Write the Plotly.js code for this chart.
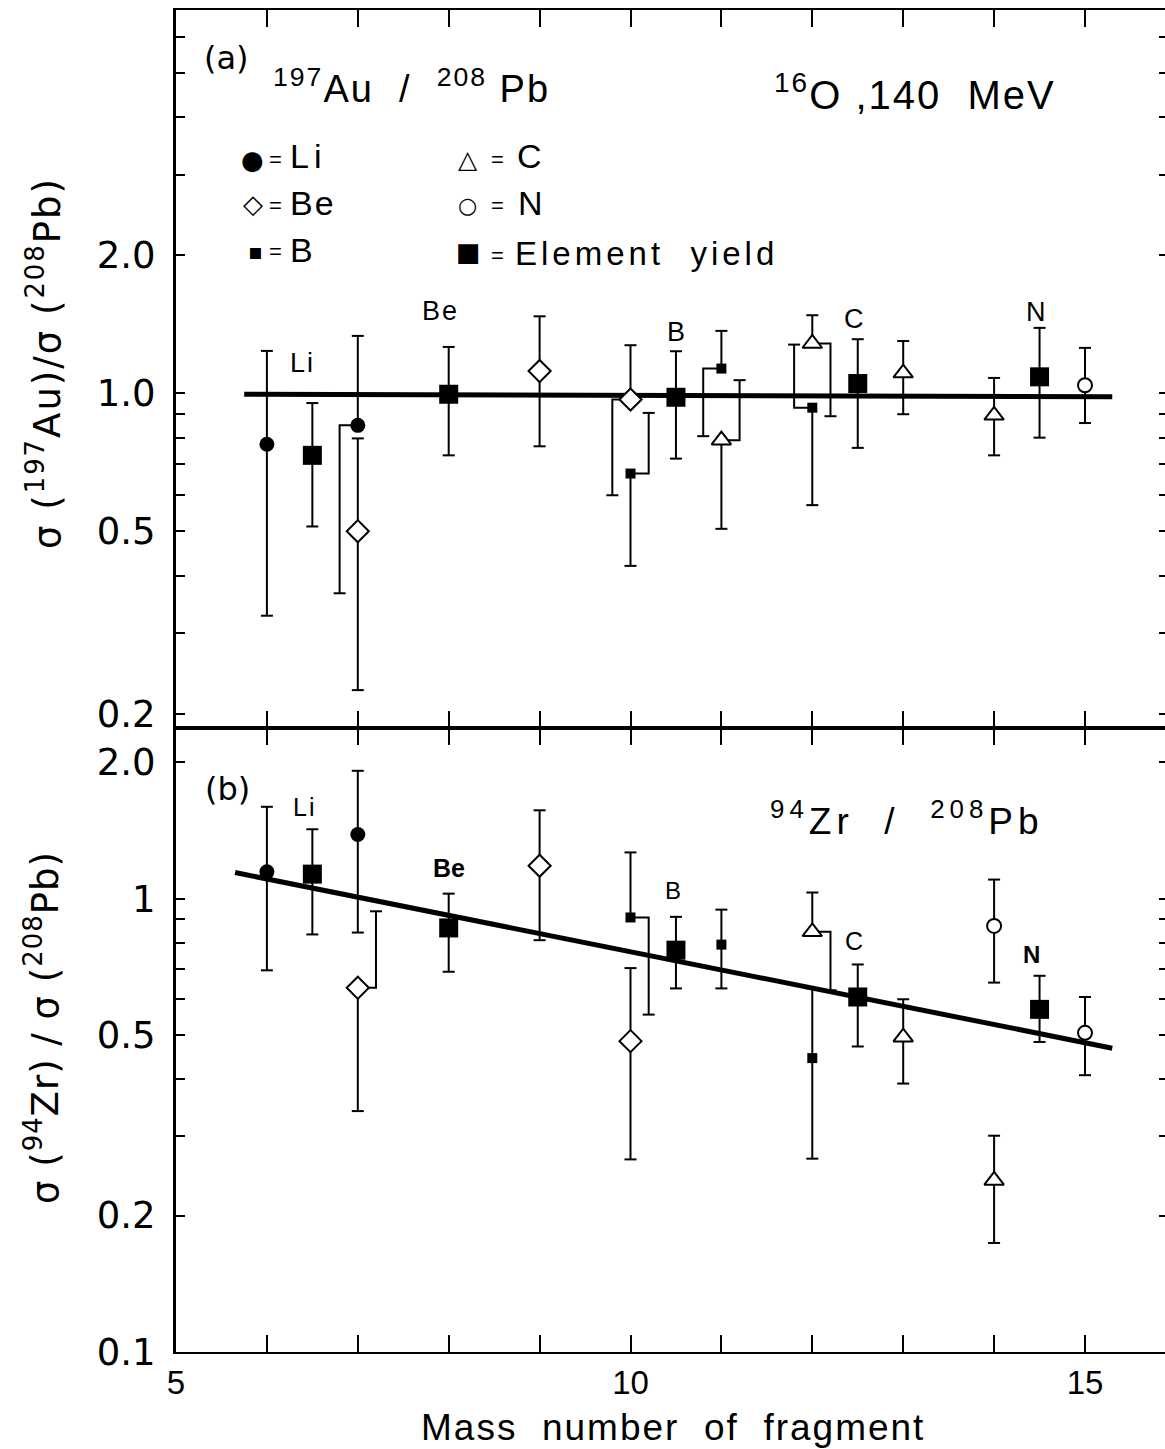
<!DOCTYPE html>
<html><head><meta charset="utf-8">
<script src="https://cdn.plot.ly/plotly-3.0.1.min.js"></script>
<style>html,body{margin:0;padding:0;background:#fff;overflow:hidden;}#chart{width:1170px;height:1449px;}</style>
</head><body><div id="chart"></div>
<script>
// ---------------- Panel (a): 197Au / 208Pb ----------------
const liA_x = [6, 7];
const liA_y = [0.774, 0.851];
const liA_hi = [1.237, 1.334];
const liA_lo = [0.327, 0.366];

const beA_x = [7, 9, 10];
const beA_y = [0.50, 1.118, 0.969];
const beA_hi = [0.797, 1.472, 1.273];
const beA_lo = [0.225, 0.766, 0.599];

const bA_x = [10, 11, 12];
const bA_y = [0.668, 1.132, 0.93];
const bA_hi = [0.906, 1.368, 1.277];
const bA_lo = [0.42, 0.806, 0.57];

const cA_x = [11, 12, 13, 14];
const cA_y = [0.79, 1.284, 1.107, 0.895];
const cA_hi = [1.068, 1.48, 1.30, 1.08];
const cA_lo = [0.506, 0.891, 0.90, 0.732];

const nA_x = [15];
const nA_y = [1.041];
const nA_hi = [1.256];
const nA_lo = [0.861];

const elA_x = [6.5, 8, 10.5, 12.5, 14.5];
const elA_y = [0.732, 0.995, 0.98, 1.05, 1.086];
const elA_hi = [0.952, 1.262, 1.235, 1.312, 1.389];
const elA_lo = [0.512, 0.732, 0.72, 0.76, 0.80];

const fitA_x = [5.75, 15.3];
const fitA_y = [0.995, 0.983];

// error bars drawn beside the point (element, mass, side of bar, direction)
const bracketA_el   = ['Li', 'Be', 'B', 'B', 'C', 'B', 'C'];
const bracketA_mass = [7, 10, 10, 11, 11, 12, 12];
const bracketA_side = ['lo', 'lo', 'hi', 'lo', 'hi', 'hi', 'lo'];
const bracketA_dir  = [-1, -1, 1, -1, 1, -1, 1];

// ---------------- Panel (b): 94Zr / 208Pb ----------------
const liB_x = [6, 7];
const liB_y = [1.146, 1.386];
const liB_hi = [1.595, 1.915];
const liB_lo = [0.695, 0.842];

const beB_x = [7, 9, 10];
const beB_y = [0.636, 1.182, 0.485];
const beB_hi = [0.938, 1.567, 0.703];
const beB_lo = [0.34, 0.81, 0.266];

const bB_x = [10, 11, 12];
const bB_y = [0.909, 0.792, 0.445];
const bB_hi = [1.265, 0.946, 0.634];
const bB_lo = [0.555, 0.634, 0.267];

const cB_x = [12, 13, 14];
const cB_y = [0.845, 0.495, 0.239];
const cB_hi = [1.032, 0.60, 0.30];
const cB_lo = [0.628, 0.391, 0.174];

const nB_x = [14, 15];
const nB_y = [0.871, 0.506];
const nB_hi = [1.102, 0.607];
const nB_lo = [0.653, 0.408];

const elB_x = [6.5, 8, 10.5, 12.5, 14.5];
const elB_y = [1.133, 0.862, 0.77, 0.607, 0.57];
const elB_hi = [1.423, 1.026, 0.912, 0.716, 0.676];
const elB_lo = [0.834, 0.69, 0.634, 0.472, 0.483];

const fitB_x = [5.65, 15.3];
const fitB_y = [1.142, 0.468];

const bracketB_el   = ['Be', 'B', 'C'];
const bracketB_mass = [7, 10, 12];
const bracketB_side = ['hi', 'lo', 'lo'];
const bracketB_dir  = [1, 1, 1];

// ticks and tick labels
const xTickVals = [5, 10, 15];
const xTickText = ['5', '10', '15'];
const xMinorVals = [6, 7, 8, 9, 11, 12, 13, 14];
const yTickValsA = [0.2, 0.5, 1, 2];
const yTickTextA = ['0.2', '0.5', '1.0', '2.0'];
const yMinorValsA = [0.3, 0.4, 0.6, 0.7, 0.8, 0.9, 3, 4, 5, 6];
const yTickValsB = [0.1, 0.2, 0.5, 1, 2];
const yTickTextB = ['0.1', '0.2', '0.5', '1', '2.0'];
const yMinorValsB = [0.3, 0.4, 0.6, 0.7, 0.8, 0.9];

// ---------------- build ----------------
const ROUND = 'DejaVu Sans';
const SANS = 'Liberation Sans, Arial, sans-serif';

const styles = {
  Li: {symbol: 'circle', size: 15, color: 'black', line: {width: 0}},
  Be: {symbol: 'diamond', size: 17, color: 'white', line: {color: 'black', width: 2}},
  B:  {symbol: 'square', size: 10, color: 'black', line: {width: 0}},
  C:  {symbol: 'triangle-up', size: 17, color: 'white', line: {color: 'black', width: 2}},
  N:  {symbol: 'circle', size: 14, color: 'white', line: {color: 'black', width: 2}},
  El: {symbol: 'square', size: 19, color: 'black', line: {width: 0}}
};

function mk(name, x, y, hi, lo) { return {name, x, y, hi, lo}; }
const seriesA = [mk('Li', liA_x, liA_y, liA_hi, liA_lo), mk('Be', beA_x, beA_y, beA_hi, beA_lo),
  mk('B', bA_x, bA_y, bA_hi, bA_lo), mk('C', cA_x, cA_y, cA_hi, cA_lo),
  mk('N', nA_x, nA_y, nA_hi, nA_lo), mk('El', elA_x, elA_y, elA_hi, elA_lo)];
const seriesB = [mk('Li', liB_x, liB_y, liB_hi, liB_lo), mk('Be', beB_x, beB_y, beB_hi, beB_lo),
  mk('B', bB_x, bB_y, bB_hi, bB_lo), mk('C', cB_x, cB_y, cB_hi, cB_lo),
  mk('N', nB_x, nB_y, nB_hi, nB_lo), mk('El', elB_x, elB_y, elB_hi, elB_lo)];

const CAP = 0.066, OFF = 0.2;
function barPaths(series, bEl, bMass, bSide, bDir) {
  const X = [], Y = [];
  function seg(x1, y1, x2, y2) { X.push(x1, x2, null); Y.push(y1, y2, null); }
  function cap(xc, yc) { seg(xc - CAP, yc, xc + CAP, yc); }
  series.forEach(s => s.x.forEach((x, i) => {
    const y = s.y[i], hi = s.hi[i], lo = s.lo[i];
    let k = -1;
    for (let j = 0; j < bEl.length; j++) if (bEl[j] === s.name && bMass[j] === x) k = j;
    if (k < 0) { seg(x, lo, x, hi); cap(x, lo); cap(x, hi); }
    else {
      const xo = x + bDir[k] * OFF;
      const keep = bSide[k] === 'lo' ? hi : lo;
      const moved = bSide[k] === 'lo' ? lo : hi;
      seg(x, y, x, keep); cap(x, keep);
      X.push(x, xo, xo, null); Y.push(y, y, moved, null);
      cap(xo, moved);
    }
  }));
  return {X, Y};
}

const traces = [];
function panel(series, fx, fy, bEl, bMass, bSide, bDir, xa, ya) {
  traces.push({x: fx, y: fy, xaxis: xa, yaxis: ya, mode: 'lines', line: {color: 'black', width: 5}, hoverinfo: 'skip'});
  const p = barPaths(series, bEl, bMass, bSide, bDir);
  traces.push({x: p.X, y: p.Y, xaxis: xa, yaxis: ya, mode: 'lines', line: {color: 'black', width: 2}, hoverinfo: 'skip'});
  series.forEach(s => traces.push({x: s.x, y: s.y, xaxis: xa, yaxis: ya, mode: 'markers', marker: styles[s.name], name: s.name}));
}
panel(seriesA, fitA_x, fitA_y, bracketA_el, bracketA_mass, bracketA_side, bracketA_dir, 'x', 'y');
panel(seriesB, fitB_x, fitB_y, bracketB_el, bracketB_mass, bracketB_side, bracketB_dir, 'x2', 'y2');

// pixel -> paper helpers for text placement
const PL = 176, PR = 1168, PT = 10, PB = 1352;
const px = p => (p - PL) / (PR - PL);
const py = p => (PB - p) / (PB - PT);
function txt(text, x, y, size, opt) {
  opt = opt || {};
  return {text, xref: 'paper', yref: 'paper', x: px(x), y: py(y), showarrow: false,
    xanchor: opt.xanchor || 'center', yanchor: opt.yanchor || 'middle', textangle: opt.angle || 0,
    font: {family: opt.family || SANS, size, color: 'black', weight: opt.weight || 'normal'}};
}
const sp = '\u00a0';
const ls = (t, px) => '<span style="letter-spacing:' + px + 'px">' + t + '</span>';
const annotations = [
  txt('(a)', 226, 58, 32, {family: ROUND}),
  txt(ls('<sup>197</sup>Au' + sp + sp + '/' + sp + sp + '<sup>208</sup>' + sp + 'Pb', 2), 271, 86, 38, {xanchor: 'left'}),
  txt(ls('<sup>16</sup>O' + sp + ',140' + sp + sp + 'MeV', 2), 772, 92, 40, {xanchor: 'left'}),
  // legend symbols
  txt('\u25CF', 252, 160, 26, {family: ROUND}),
  txt('\u25C7', 253, 204, 26, {family: ROUND}),
  txt('\u25AA', 255, 251, 22, {family: ROUND}),
  txt('\u25B3', 468, 160, 25, {family: ROUND}),
  txt('\u25CB', 467, 205, 22, {family: ROUND}),
  txt('\u25A0', 468, 252, 26, {family: ROUND}),
  // legend equals signs
  txt('=', 275, 159, 22), txt('=', 275, 206, 22), txt('=', 275, 252, 22),
  txt('=', 497, 159, 22), txt('=', 497, 206, 22), txt('=', 497, 255, 22),
  // legend labels
  txt(ls('Li', 5), 288, 156, 34, {xanchor: 'left'}),
  txt(ls('Be', 2), 288, 203, 34, {xanchor: 'left'}),
  txt('B', 288, 250, 34, {xanchor: 'left'}),
  txt('C', 515, 156, 34, {xanchor: 'left'}),
  txt('N', 516, 203, 34, {xanchor: 'left'}),
  txt(ls('Element' + sp + sp + 'yield', 4), 513, 253, 33, {xanchor: 'left'}),
  // element labels (a)
  txt(ls('Li', 2), 302, 363, 27),
  txt(ls('Be', 2), 440, 311, 27),
  txt('B', 676, 332, 27),
  txt('C', 854, 319, 27),
  txt('N', 1036, 312, 27),
  // panel (b)
  txt('(b)', 227, 789, 32, {family: ROUND}),
  txt(ls('<sup>94</sup>Zr' + sp + sp + '/' + sp + sp + '<sup>208</sup>Pb', 5), 768, 818, 37, {xanchor: 'left'}),
  txt(ls('Li', 2), 304, 807, 25),
  txt('Be', 449, 868, 25, {weight: 'bold'}),
  txt('B', 673, 890, 24),
  txt('C', 854, 941, 25),
  txt('N', 1031, 954, 24, {weight: 'bold'}),
  // axis titles
  txt(ls('\u03C3' + sp + '(<sup>197</sup>Au)/\u03C3' + sp + '(<sup>208</sup>Pb)', 2), 44, 363, 37, {angle: -90, family: ROUND}),
  txt(ls('\u03C3' + sp + '(<sup>94</sup>Zr)' + sp + '/' + sp + '\u03C3' + sp + '(<sup>208</sup>Pb)', 1), 42, 1028, 37, {angle: -90, family: ROUND}),
  txt(ls('Mass' + sp + sp + 'number' + sp + sp + 'of' + sp + sp + 'fragment', 2), 673, 1427, 37)
];

const xCommon = {range: [5, 5 + (PR - PL) / 90.9], tickmode: 'array', tickvals: xTickVals, ticktext: xTickText,
  ticks: 'inside', ticklen: 17, tickwidth: 2, tickcolor: 'black', showline: true, linewidth: 2,
  linecolor: 'black', mirror: 'ticks', showgrid: false, zeroline: false,
  minor: {tickmode: 'array', tickvals: xMinorVals, ticks: 'inside', ticklen: 17, tickwidth: 2, tickcolor: 'black', showgrid: false}};
const yCommon = {type: 'log', tickmode: 'array', ticks: 'inside', ticklen: 9, tickwidth: 2,
  tickcolor: 'black', showline: true, linewidth: 3, linecolor: 'black', mirror: 'ticks',
  showgrid: false, zeroline: false, ticklabelstandoff: 10,
  tickfont: {family: ROUND, size: 37, color: 'black'}};
function yMinor(v) { return {tickmode: 'array', tickvals: v, ticks: 'inside', ticklen: 9, tickwidth: 2, tickcolor: 'black', showgrid: false}; }

const layout = {
  width: 1170, height: 1449,
  margin: {l: PL, r: 1170 - PR, t: PT, b: 1449 - PB},
  paper_bgcolor: 'white', plot_bgcolor: 'white', showlegend: false,
  xaxis: Object.assign({}, xCommon, {anchor: 'y', showticklabels: false}),
  xaxis2: Object.assign({}, xCommon, {anchor: 'y2', matches: 'x',
    tickfont: {family: SANS, size: 33, color: 'black'}, ticklabelstandoff: 0}),
  yaxis: Object.assign({}, yCommon, {domain: [(PB - 728) / (PB - PT), 1], anchor: 'x',
    range: [Math.log10(0.186), Math.log10(6.86)], tickvals: yTickValsA, ticktext: yTickTextA, minor: yMinor(yMinorValsA)}),
  yaxis2: Object.assign({}, yCommon, {domain: [0, (PB - 728) / (PB - PT)], anchor: 'x2',
    range: [-1, Math.log10(2.38)], tickvals: yTickValsB, ticktext: yTickTextB, minor: yMinor(yMinorValsB)}),
  annotations
};

Plotly.newPlot('chart', traces, layout, {staticPlot: true, displayModeBar: false});
</script></body></html>
